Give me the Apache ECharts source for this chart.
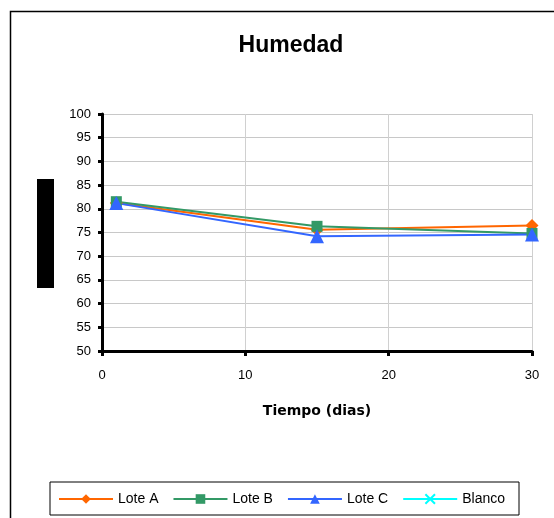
<!DOCTYPE html>
<html>
<head>
<meta charset="utf-8">
<script src="https://cdn.jsdelivr.net/npm/echarts@6/dist/echarts.min.js"></script>
<style>
  html, body { margin: 0; padding: 0; background: #fff; }
  #chart { width: 554px; height: 518px; }
</style>
</head>
<body>
<div id="chart"></div>
<script>
// Sampling times (days) and moisture readings per batch
const dias = [1, 15, 30];
const loteA = [81.2, 75.6, 76.5];
const loteB = [81.5, 76.3, 74.8];
const loteC = [81.2, 74.2, 74.6];
const blanco = [];
const yTicks = [50, 55, 60, 65, 70, 75, 80, 85, 90, 95, 100];
const xTicks = [0, 10, 20, 30];

const pairs = (xs, ys) => ys.map((v, i) => [xs[i], v]);
const font = 'Liberation Sans, Arial, sans-serif';

const chart = echarts.init(document.getElementById('chart'), null, { renderer: 'canvas' });

const crossPath = 'path://M0,0 L10,10 M10,0 L0,10';

chart.setOption({
  animation: false,
  backgroundColor: '#fff',
  title: {
    text: 'Humedad',
    left: 286, top: 29, textAlign: 'center',
    textStyle: { fontFamily: font, fontSize: 23, fontWeight: 'bold', color: '#000' }
  },
  grid: { left: 102, right: 22, top: 114, bottom: 167, containLabel: false },
  xAxis: {
    type: 'value', min: xTicks[0], max: xTicks[xTicks.length - 1], interval: 10,
    name: 'Tiempo (dias)', nameLocation: 'middle', nameGap: 53,
    nameTextStyle: { fontFamily: 'DejaVu Sans, sans-serif', fontSize: 14, fontWeight: 'bold', color: '#000' },
    axisLine: { lineStyle: { color: '#000', width: 3 } },
    axisTick: { show: true, length: 5, lineStyle: { color: '#000', width: 3 } },
    axisLabel: { fontFamily: font, fontSize: 13, color: '#000', margin: 18 },
    splitLine: { show: true, lineStyle: { color: '#d0d0d0', width: 1 } }
  },
  yAxis: {
    type: 'value', min: yTicks[0], max: yTicks[yTicks.length - 1], interval: 5,
    axisLine: { lineStyle: { color: '#000', width: 3 } },
    axisTick: { show: true, length: 4, lineStyle: { color: '#000', width: 3 } },
    axisLabel: { fontFamily: font, fontSize: 13, color: '#000', margin: 11 },
    splitLine: { show: true, lineStyle: { color: '#c8c8c8', width: 1 } }
  },
  legend: {
    bottom: 3, left: 50,
    padding: [10, 14, 9, 8],
    borderColor: '#000', borderWidth: 1,
    itemWidth: 54, itemHeight: 12, itemGap: 14,
    textStyle: { fontFamily: font, fontSize: 14, color: '#000' },
    data: ['Lote A', 'Lote B', 'Lote C', 'Blanco']
  },
  graphic: [
    { type: 'rect', left: 8, top: 9, shape: { width: 560, height: 530 },
      style: { fill: 'none', stroke: '#000', lineWidth: 1.5 }, silent: true },
    { type: 'rect', left: 37, top: 179, shape: { width: 17, height: 109 },
      style: { fill: '#000' }, silent: true }
  ],
  series: [
    { name: 'Lote A', type: 'line', data: pairs(dias, loteA), color: '#FF6600',
      symbol: 'diamond', symbolSize: 13, lineStyle: { width: 2 } },
    { name: 'Lote B', type: 'line', data: pairs(dias, loteB), color: '#339966',
      symbol: 'rect', symbolSize: 11, lineStyle: { width: 2 } },
    { name: 'Lote C', type: 'line', data: pairs(dias, loteC), color: '#3366FF',
      symbol: 'triangle', symbolSize: 14, lineStyle: { width: 2 } },
    { name: 'Blanco', type: 'line', data: pairs(dias, blanco), color: '#00FFFF',
      symbol: crossPath, symbolSize: 10, lineStyle: { width: 2 },
      itemStyle: { borderColor: '#00FFFF', borderWidth: 2 } }
  ]
});
</script>
</body>
</html>
